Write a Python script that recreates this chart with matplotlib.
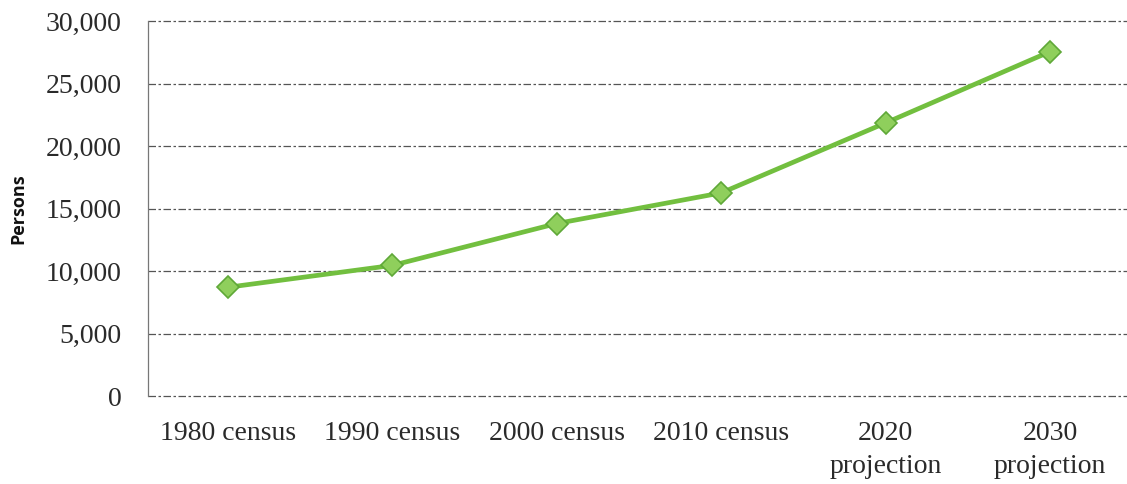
import matplotlib.pyplot as plt
from matplotlib.ticker import FuncFormatter

categories = ['1980 census', '1990 census', '2000 census', '2010 census',
              '2020\nprojection', '2030\nprojection']
persons = [8700, 10450, 13800, 16250, 21850, 27550]
y_ticks = [0, 5000, 10000, 15000, 20000, 25000, 30000]

fig = plt.figure(figsize=(11.27, 4.84), dpi=100)
ax = fig.add_axes([148 / 1127, 1 - 396 / 484, 979 / 1127, 375 / 484])

x = list(range(len(categories)))
ax.plot(x, persons, color='#72bf3f', linewidth=3.4, marker='D', markersize=11,
        markerfacecolor='#8fcf5c', markeredgecolor='#5fa838', markeredgewidth=1.2,
        zorder=3)

ax.set_xlim(-0.487, 5.468)
ax.set_ylim(0, 30000)
ax.set_yticks(y_ticks)
ax.yaxis.set_major_formatter(FuncFormatter(lambda v, p: f'{int(v):,}'))
ax.set_xticks(x)
ax.set_xticklabels(categories)

for v in y_ticks:
    ax.axhline(v, color='#555555', linewidth=0.9, linestyle=(0, (6, 2, 2, 2)),
               zorder=1, clip_on=False)

for s in ['top', 'right', 'bottom']:
    ax.spines[s].set_visible(False)
ax.spines['left'].set_color('#777777')
ax.spines['left'].set_linewidth(0.9)

ax.tick_params(axis='both', length=0, labelsize=20, colors='#2a2a2a')
ax.tick_params(axis='y', pad=19)
ax.tick_params(axis='x', pad=18)
for lab in ax.get_xticklabels() + ax.get_yticklabels():
    lab.set_fontfamily('Liberation Serif')
    lab.set_linespacing(1.4)

ax.set_ylabel('Persons', fontfamily='Open Sans', fontweight='bold', fontsize=13,
              labelpad=13, color='#111111')

fig.savefig('out.png', dpi=100)
